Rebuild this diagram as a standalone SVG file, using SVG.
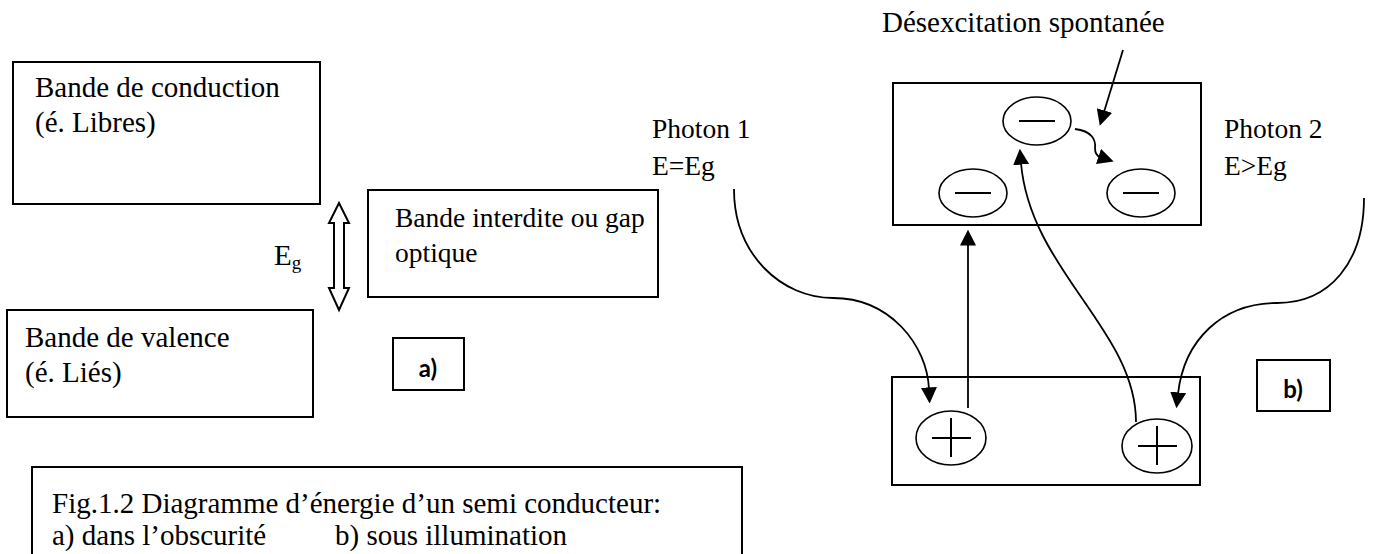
<svg xmlns="http://www.w3.org/2000/svg" width="1374" height="554" viewBox="0 0 1374 554">
  <style>
    .box { fill: #fff; stroke: #000; stroke-width: 2; }
    .lbl { font-family: "Liberation Serif", "Times New Roman", serif; font-size: 27.5px; fill: #000; }
    .big { font-size: 29px; }
    .tag { font-family: Lato, "Liberation Sans", sans-serif; font-weight: bold; font-size: 24px; fill: #000; text-anchor: middle; }
    .carrier { fill: #fff; stroke: #000; stroke-width: 1.6; }
    .sign { stroke: #000; stroke-width: 2; fill: none; }
    .conn { fill: none; stroke: #000; stroke-width: 1.8; }
  </style>
  <defs>
    <marker id="arrowL" viewBox="0 0 10 10" refX="1" refY="5" markerWidth="16" markerHeight="16" markerUnits="userSpaceOnUse" orient="auto">
      <path d="M0,0 L10,5 L0,10 Z" fill="#000"/>
    </marker>
  </defs>
  <rect width="1374" height="554" fill="#fff"/>

  <!-- a) dark state -->
  <g id="conduction-band">
    <rect class="box" x="13" y="62" width="307" height="142"/>
    <text class="lbl big" x="35" y="97">Bande de conduction</text>
    <text class="lbl big" x="35" y="132">(é. Libres)</text>
  </g>
  <g id="valence-band">
    <rect class="box" x="7" y="310" width="306" height="107"/>
    <text class="lbl big" x="25" y="347">Bande de valence</text>
    <text class="lbl big" x="25" y="382">(é. Liés)</text>
  </g>
  <g id="gap-note">
    <rect class="box" x="368" y="190" width="290" height="107"/>
    <text class="lbl" x="395" y="227">Bande interdite ou gap</text>
    <text class="lbl" x="395" y="262">optique</text>
  </g>
  <g id="gap-arrow">
    <path d="M339,203 L329,223 L334,223 L334,288 L329,288 L339,310 L349,288 L344,288 L344,223 L349,223 Z" fill="#fff" stroke="#000" stroke-width="2" stroke-linejoin="miter"/>
    <text class="lbl big" x="274" y="265">E<tspan font-size="19" dy="4">g</tspan></text>
  </g>
  <g id="tag-a">
    <rect class="box" x="393" y="338" width="71" height="52"/>
    <text class="tag" x="428" y="377">a)</text>
  </g>

  <!-- b) under illumination -->
  <g id="upper-band">
    <rect class="box" x="893" y="83" width="308" height="142"/>
    <ellipse class="carrier" cx="1037" cy="121" rx="34" ry="24"/>
    <line class="sign" x1="1019" y1="121" x2="1055" y2="121"/>
    <ellipse class="carrier" cx="973" cy="193" rx="34" ry="24"/>
    <line class="sign" x1="955" y1="193" x2="991" y2="193"/>
    <ellipse class="carrier" cx="1141" cy="193" rx="34" ry="24"/>
    <line class="sign" x1="1123" y1="193" x2="1159" y2="193"/>
  </g>
  <g id="lower-band">
    <rect class="box" x="892" y="377" width="308" height="108"/>
    <ellipse class="carrier" cx="951" cy="438" rx="35" ry="27"/>
    <line class="sign" x1="932" y1="438" x2="971" y2="438"/>
    <line class="sign" x1="951" y1="418" x2="951" y2="457"/>
    <ellipse class="carrier" cx="1157" cy="446" rx="35" ry="27"/>
    <line class="sign" x1="1138" y1="446" x2="1177" y2="446"/>
    <line class="sign" x1="1157" y1="426" x2="1157" y2="465"/>
  </g>
  <g id="photon-1">
    <text class="lbl" x="652" y="138">Photon 1</text>
    <text class="lbl" x="652" y="175">E=Eg</text>
  </g>
  <g id="photon-2">
    <text class="lbl" x="1224" y="138">Photon 2</text>
    <text class="lbl" x="1224" y="175">E&gt;Eg</text>
  </g>
  <g id="relaxation-label">
    <text class="lbl big" x="882" y="32">Désexcitation spontanée</text>
  </g>
  <g id="tag-b">
    <rect class="box" x="1257" y="360" width="73" height="51"/>
    <text class="tag" x="1293" y="398">b)</text>
  </g>

  <g id="connectors">
    <!-- photon 1 absorbed at the left hole -->
    <path class="conn" d="M734,189 C734,255 782,298 833,298 C890,298 927,345 929,389" marker-end="url(#arrowL)"/>
    <!-- photon 2 absorbed at the right hole -->
    <path class="conn" d="M1364,198 C1364,262 1330,303 1277,303 C1222,303 1184,340 1178,394" marker-end="url(#arrowL)"/>
    <!-- electron promoted by photon 1 -->
    <path class="conn" d="M968,408 L968,244" marker-end="url(#arrowL)"/>
    <!-- electron promoted by photon 2 -->
    <path class="conn" d="M1136,422 C1136,330 1030,270 1021,163" marker-end="url(#arrowL)"/>
    <!-- label pointer -->
    <path class="conn" d="M1123,50 L1104,112" marker-end="url(#arrowL)"/>
    <!-- relaxation inside the band -->
    <path class="conn" d="M1075,129 C1092,131 1096,140 1095,148 C1095,153 1097,156 1100,157" marker-end="url(#arrowL)"/>
  </g>

  <g id="caption">
    <rect class="box" x="32" y="467" width="710" height="100"/>
    <text class="lbl big" x="52" y="513">Fig.1.2 Diagramme d’énergie d’un semi conducteur:</text>
    <text class="lbl big" x="52" y="545">a) dans l’obscurité <tspan x="335">b) sous illumination</tspan></text>
  </g>
</svg>
